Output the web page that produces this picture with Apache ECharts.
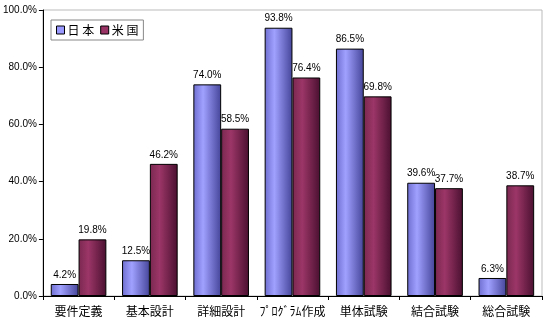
<!DOCTYPE html>
<html><head><meta charset="utf-8">
<script src="https://cdn.jsdelivr.net/npm/echarts@6/dist/echarts.min.js"></script>
<style>html,body{margin:0;padding:0;background:#fff}#c{width:548px;height:322px}</style>
</head><body><div id="c"></div>
<script>
const categories = ['要件定義','基本設計','詳細設計','ﾌﾟﾛｸﾞﾗﾑ作成','単体試験','結合試験','総合試験'];
const japan = [4.2, 12.5, 74.0, 93.8, 86.5, 39.6, 6.3];
const usa = [19.8, 46.2, 58.5, 76.4, 69.8, 37.7, 38.7];
const seriesNames = ['日本','米国'];

const font = '"Noto Sans CJK JP", sans-serif';
function grad(a,b,c){
  return new echarts.graphic.LinearGradient(0,0,1,0,[
    {offset:0,color:a},{offset:0.35,color:b},{offset:1,color:c}]);
}
const chart = echarts.init(document.getElementById('c'));
const lbl = {show:true,position:'top',distance:4,fontSize:10,color:'#000',fontFamily:'Liberation Sans, sans-serif',
  formatter:p=>p.value.toFixed(1)+'%'};
chart.setOption({
  animation:false,
  backgroundColor:'#fff',
  grid:{left:41,right:6,top:10,bottom:26,show:true,borderColor:'#bbb',borderWidth:1},
  legend:{left:51,top:20,itemWidth:8,itemHeight:8,itemGap:6,padding:[4,5,4,5],
    borderColor:'#888',borderWidth:1,borderRadius:0,backgroundColor:'#fff',
    textStyle:{fontSize:12,fontFamily:font,color:'#000',padding:[0,0,0,-2]},
    formatter:n=>n.split('').join(' '),
    data:[{name:seriesNames[0],icon:'rect',itemStyle:{color:'#9999ff',borderColor:'#000',borderWidth:1}},
          {name:seriesNames[1],icon:'rect',itemStyle:{color:'#993366',borderColor:'#000',borderWidth:1}}]},
  xAxis:{type:'category',data:categories,
    axisLine:{lineStyle:{color:'#000'}},
    axisTick:{show:true,length:4,lineStyle:{color:'#000'}},
    axisLabel:{interval:0,fontSize:12,color:'#000',fontFamily:font,margin:9}},
  yAxis:{type:'value',min:0,max:100,interval:20,
    axisLine:{show:true,lineStyle:{color:'#000'}},
    axisTick:{show:true,length:4,lineStyle:{color:'#000'}},
    splitLine:{show:false},
    axisLabel:{fontSize:10,color:'#000',fontFamily:'Liberation Sans, sans-serif',margin:6,formatter:v=>v.toFixed(1)+'%'}},
  series:[
    {name:seriesNames[0],type:'bar',data:japan,barGap:'0%',barCategoryGap:'22%',
      itemStyle:{color:grad('#6e6ed0','#a0a0ff','#45459a'),borderColor:'#000',borderWidth:1},label:lbl},
    {name:seriesNames[1],type:'bar',data:usa,
      itemStyle:{color:grad('#7a2850','#9c3668','#4a1030'),borderColor:'#000',borderWidth:1},label:lbl}
  ]
});
</script></body></html>
